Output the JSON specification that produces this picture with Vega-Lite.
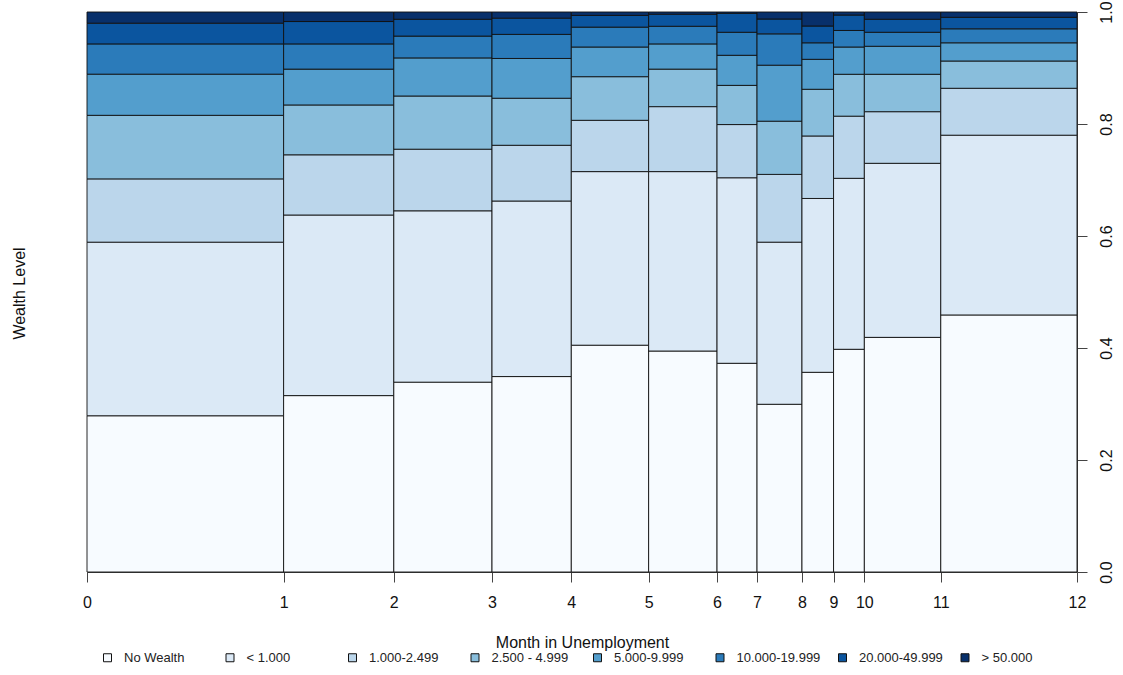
{
  "$schema": "https://vega.github.io/schema/vega-lite/v6.json",
  "width": 990,
  "height": 560,
  "autosize": "none",
  "padding": {"left": 87, "top": 12, "right": 46, "bottom": 103},
  "background": "white",
  "config": {"view": {"stroke": null}, "font": "Liberation Sans"},
  "datasets": {
    "months": [
      {"month": 0, "x_lo": 0, "x_hi": 0.1986},
      {"month": 1, "x_lo": 0.1986, "x_hi": 0.3099},
      {"month": 2, "x_lo": 0.3099, "x_hi": 0.4091},
      {"month": 3, "x_lo": 0.4091, "x_hi": 0.4892},
      {"month": 4, "x_lo": 0.4892, "x_hi": 0.5673},
      {"month": 5, "x_lo": 0.5673, "x_hi": 0.6364},
      {"month": 6, "x_lo": 0.6364, "x_hi": 0.6768},
      {"month": 7, "x_lo": 0.6768, "x_hi": 0.7222},
      {"month": 8, "x_lo": 0.7222, "x_hi": 0.7541},
      {"month": 9, "x_lo": 0.7541, "x_hi": 0.7852},
      {"month": 10, "x_lo": 0.7852, "x_hi": 0.8624},
      {"month": 11, "x_lo": 0.8624, "x_hi": 1}
    ],
    "levels": [
      {"level": "No Wealth", "rank": 1},
      {"level": "< 1.000", "rank": 2},
      {"level": "1.000-2.499", "rank": 3},
      {"level": "2.500 - 4.999", "rank": 4},
      {"level": "5.000-9.999", "rank": 5},
      {"level": "10.000-19.999", "rank": 6},
      {"level": "20.000-49.999", "rank": 7},
      {"level": "> 50.000", "rank": 8}
    ],
    "cells": [
      {"month": 0, "level": "No Wealth", "p": 0.279},
      {"month": 0, "level": "< 1.000", "p": 0.310},
      {"month": 0, "level": "1.000-2.499", "p": 0.113},
      {"month": 0, "level": "2.500 - 4.999", "p": 0.1135},
      {"month": 0, "level": "5.000-9.999", "p": 0.0735},
      {"month": 0, "level": "10.000-19.999", "p": 0.054},
      {"month": 0, "level": "20.000-49.999", "p": 0.037},
      {"month": 0, "level": "> 50.000", "p": 0.020},
      {"month": 1, "level": "No Wealth", "p": 0.315},
      {"month": 1, "level": "< 1.000", "p": 0.3225},
      {"month": 1, "level": "1.000-2.499", "p": 0.1075},
      {"month": 1, "level": "2.500 - 4.999", "p": 0.089},
      {"month": 1, "level": "5.000-9.999", "p": 0.064},
      {"month": 1, "level": "10.000-19.999", "p": 0.045},
      {"month": 1, "level": "20.000-49.999", "p": 0.040},
      {"month": 1, "level": "> 50.000", "p": 0.017},
      {"month": 2, "level": "No Wealth", "p": 0.339},
      {"month": 2, "level": "< 1.000", "p": 0.306},
      {"month": 2, "level": "1.000-2.499", "p": 0.110},
      {"month": 2, "level": "2.500 - 4.999", "p": 0.095},
      {"month": 2, "level": "5.000-9.999", "p": 0.068},
      {"month": 2, "level": "10.000-19.999", "p": 0.039},
      {"month": 2, "level": "20.000-49.999", "p": 0.030},
      {"month": 2, "level": "> 50.000", "p": 0.013},
      {"month": 3, "level": "No Wealth", "p": 0.349},
      {"month": 3, "level": "< 1.000", "p": 0.3135},
      {"month": 3, "level": "1.000-2.499", "p": 0.0995},
      {"month": 3, "level": "2.500 - 4.999", "p": 0.084},
      {"month": 3, "level": "5.000-9.999", "p": 0.071},
      {"month": 3, "level": "10.000-19.999", "p": 0.043},
      {"month": 3, "level": "20.000-49.999", "p": 0.029},
      {"month": 3, "level": "> 50.000", "p": 0.011},
      {"month": 4, "level": "No Wealth", "p": 0.405},
      {"month": 4, "level": "< 1.000", "p": 0.310},
      {"month": 4, "level": "1.000-2.499", "p": 0.0916},
      {"month": 4, "level": "2.500 - 4.999", "p": 0.0779},
      {"month": 4, "level": "5.000-9.999", "p": 0.053},
      {"month": 4, "level": "10.000-19.999", "p": 0.0355},
      {"month": 4, "level": "20.000-49.999", "p": 0.021},
      {"month": 4, "level": "> 50.000", "p": 0.006},
      {"month": 5, "level": "No Wealth", "p": 0.3946},
      {"month": 5, "level": "< 1.000", "p": 0.3204},
      {"month": 5, "level": "1.000-2.499", "p": 0.116},
      {"month": 5, "level": "2.500 - 4.999", "p": 0.067},
      {"month": 5, "level": "5.000-9.999", "p": 0.045},
      {"month": 5, "level": "10.000-19.999", "p": 0.0315},
      {"month": 5, "level": "20.000-49.999", "p": 0.0215},
      {"month": 5, "level": "> 50.000", "p": 0.004},
      {"month": 6, "level": "No Wealth", "p": 0.3727},
      {"month": 6, "level": "< 1.000", "p": 0.3313},
      {"month": 6, "level": "1.000-2.499", "p": 0.095},
      {"month": 6, "level": "2.500 - 4.999", "p": 0.070},
      {"month": 6, "level": "5.000-9.999", "p": 0.0537},
      {"month": 6, "level": "10.000-19.999", "p": 0.0411},
      {"month": 6, "level": "20.000-49.999", "p": 0.0339},
      {"month": 6, "level": "> 50.000", "p": 0.0023},
      {"month": 7, "level": "No Wealth", "p": 0.2995},
      {"month": 7, "level": "< 1.000", "p": 0.2895},
      {"month": 7, "level": "1.000-2.499", "p": 0.121},
      {"month": 7, "level": "2.500 - 4.999", "p": 0.095},
      {"month": 7, "level": "5.000-9.999", "p": 0.100},
      {"month": 7, "level": "10.000-19.999", "p": 0.056},
      {"month": 7, "level": "20.000-49.999", "p": 0.0265},
      {"month": 7, "level": "> 50.000", "p": 0.0125},
      {"month": 8, "level": "No Wealth", "p": 0.3566},
      {"month": 8, "level": "< 1.000", "p": 0.3104},
      {"month": 8, "level": "1.000-2.499", "p": 0.1116},
      {"month": 8, "level": "2.500 - 4.999", "p": 0.0834},
      {"month": 8, "level": "5.000-9.999", "p": 0.0535},
      {"month": 8, "level": "10.000-19.999", "p": 0.0295},
      {"month": 8, "level": "20.000-49.999", "p": 0.030},
      {"month": 8, "level": "> 50.000", "p": 0.025},
      {"month": 9, "level": "No Wealth", "p": 0.3977},
      {"month": 9, "level": "< 1.000", "p": 0.3053},
      {"month": 9, "level": "1.000-2.499", "p": 0.111},
      {"month": 9, "level": "2.500 - 4.999", "p": 0.0748},
      {"month": 9, "level": "5.000-9.999", "p": 0.0487},
      {"month": 9, "level": "10.000-19.999", "p": 0.0295},
      {"month": 9, "level": "20.000-49.999", "p": 0.0276},
      {"month": 9, "level": "> 50.000", "p": 0.0054},
      {"month": 10, "level": "No Wealth", "p": 0.419},
      {"month": 10, "level": "< 1.000", "p": 0.3108},
      {"month": 10, "level": "1.000-2.499", "p": 0.0922},
      {"month": 10, "level": "2.500 - 4.999", "p": 0.0668},
      {"month": 10, "level": "5.000-9.999", "p": 0.050},
      {"month": 10, "level": "10.000-19.999", "p": 0.025},
      {"month": 10, "level": "20.000-49.999", "p": 0.0232},
      {"month": 10, "level": "> 50.000", "p": 0.013},
      {"month": 11, "level": "No Wealth", "p": 0.459},
      {"month": 11, "level": "< 1.000", "p": 0.321},
      {"month": 11, "level": "1.000-2.499", "p": 0.0838},
      {"month": 11, "level": "2.500 - 4.999", "p": 0.0487},
      {"month": 11, "level": "5.000-9.999", "p": 0.0325},
      {"month": 11, "level": "10.000-19.999", "p": 0.025},
      {"month": 11, "level": "20.000-49.999", "p": 0.0205},
      {"month": 11, "level": "> 50.000", "p": 0.0095}
    ]
  },
  "data": {"name": "cells"},
  "transform": [
    {"lookup": "month", "from": {"data": {"name": "months"}, "key": "month", "fields": ["x_lo", "x_hi"]}},
    {"lookup": "level", "from": {"data": {"name": "levels"}, "key": "level", "fields": ["rank"]}},
    {"stack": "p", "groupby": ["month"], "sort": [{"field": "rank", "order": "ascending"}], "as": ["y_lo", "y_hi"], "offset": "normalize"}
  ],
  "mark": {"type": "rect", "stroke": "#111111", "strokeWidth": 0.9},
  "encoding": {
    "x": {
      "field": "x_lo", "type": "quantitative",
      "scale": {"domain": [0, 1], "nice": false, "zero": false},
      "axis": {
        "values": [0, 0.1986, 0.3099, 0.4091, 0.4892, 0.5673, 0.6364, 0.6768, 0.7222, 0.7541, 0.7852, 0.8624, 1],
        "labelExpr": "'' + indexof([0, 0.1986, 0.3099, 0.4091, 0.4892, 0.5673, 0.6364, 0.6768, 0.7222, 0.7541, 0.7852, 0.8624, 1], datum.value)",
        "title": "Month in Unemployment",
        "titleFontSize": 16, "titleFontWeight": "normal", "titleColor": "#111111",
        "titleY": 75, "titleBaseline": "alphabetic",
        "labelFontSize": 16, "labelColor": "#111111", "labelPadding": 12,
        "labelFlush": false, "labelOverlap": false, "labelAlign": "center",
        "tickSize": 10, "tickColor": "#444444", "domainColor": "#444444",
        "grid": false
      }
    },
    "x2": {"field": "x_hi"},
    "y": {
      "field": "y_lo", "type": "quantitative",
      "scale": {"domain": [0, 1], "nice": false},
      "axis": {
        "orient": "right",
        "values": [0, 0.2, 0.4, 0.6, 0.8, 1],
        "format": ".1f",
        "labelAngle": -90, "labelAlign": "center", "labelBaseline": "top",
        "labelFontSize": 16, "labelColor": "#111111", "labelPadding": 11,
        "labelFlush": false, "labelOverlap": false,
        "tickSize": 10, "tickColor": "#444444", "domainColor": "#444444",
        "grid": false,
        "title": "Wealth Level",
        "titleX": -1053, "titleY": 281, "titleAngle": -90,
        "titleAlign": "center", "titleBaseline": "alphabetic",
        "titleFontSize": 16, "titleFontWeight": "normal", "titleColor": "#111111"
      }
    },
    "y2": {"field": "y_hi"},
    "color": {
      "field": "level", "type": "nominal",
      "scale": {
        "domain": ["No Wealth", "< 1.000", "1.000-2.499", "2.500 - 4.999", "5.000-9.999", "10.000-19.999", "20.000-49.999", "> 50.000"],
        "range": ["#F7FBFF", "#DBE9F6", "#BBD6EB", "#89BEDC", "#539ECD", "#2B7BBA", "#0B559F", "#08306B"]
      },
      "legend": {
        "orient": "none", "legendX": 14, "legendY": 639,
        "direction": "horizontal", "columns": 8, "gridAlign": "all",
        "columnPadding": 15.5, "title": null,
        "symbolType": "square", "symbolSize": 64, "symbolStrokeColor": "#111111",
        "symbolStrokeWidth": 1, "symbolOpacity": 1,
        "labelFontSize": 13, "labelColor": "#222222", "labelOffset": 10, "labelLimit": 200
      }
    }
  }
}
